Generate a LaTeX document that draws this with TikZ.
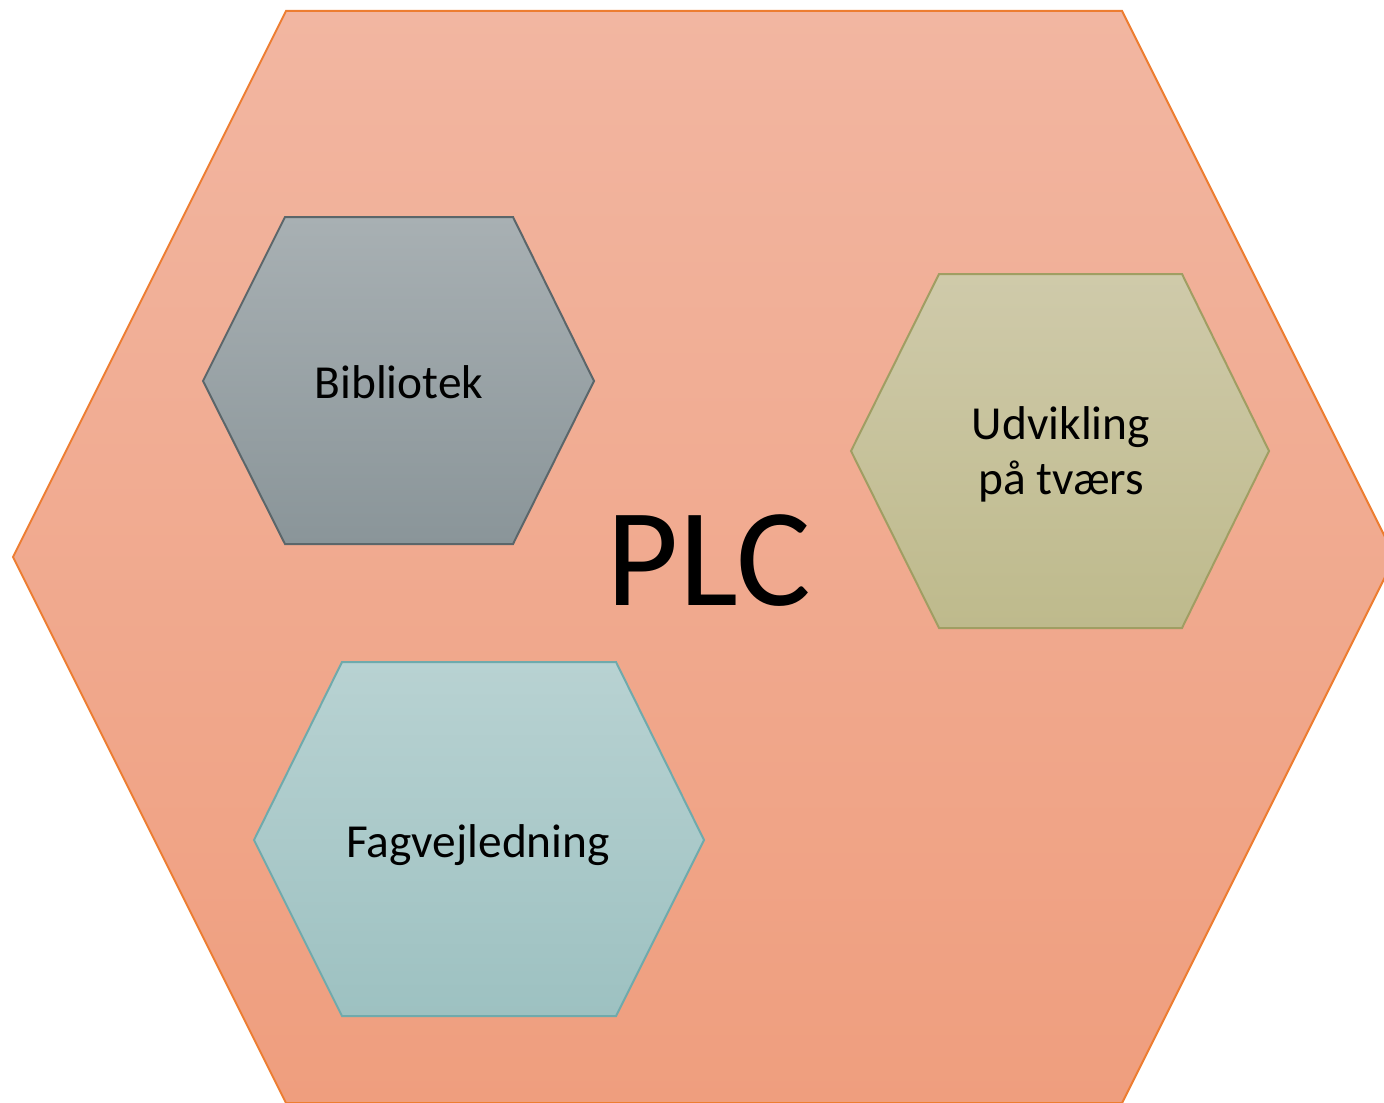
\documentclass[tikz,border=0pt]{standalone}
\usepackage{fontspec}
\setmainfont{Carlito}
\definecolor{bigtop}{HTML}{F2B6A1}
\definecolor{bigbot}{HTML}{EF9E7E}
\definecolor{bigline}{HTML}{ED7D31}
\definecolor{bibtop}{HTML}{A8B0B3}
\definecolor{bibbot}{HTML}{8A9599}
\definecolor{bibline}{HTML}{5B666A}
\definecolor{udvtop}{HTML}{CFCAAA}
\definecolor{udvbot}{HTML}{BEBA8C}
\definecolor{udvline}{HTML}{A09E63}
\definecolor{fagtop}{HTML}{B8D2D2}
\definecolor{fagbot}{HTML}{9DC1C1}
\definecolor{fagline}{HTML}{6FAAAC}
\tikzset{
  hexline/.style={line width=1pt, line join=miter},
  lbl/.style={anchor=base, inner sep=0pt, font=\fontsize{23.7}{23}\selectfont, align=center, text=black},
}
\begin{document}
\begin{tikzpicture}[x=0.5pt,y=-0.5pt]
\useasboundingbox (0,0) rectangle (1384,1102);
\clip (0,0) rectangle (1384,1102);
% big hexagon
\path[hexline, draw=bigline, top color=bigtop, bottom color=bigbot]
  (286,11) -- (1122,11) -- (1395,557) -- (1122,1103) -- (286,1103) -- (13,557) -- cycle;
% Bibliotek
\path[hexline, draw=bibline, top color=bibtop, bottom color=bibbot]
  (285,217) -- (513,217) -- (594,381) -- (513,544) -- (285,544) -- (203,381) -- cycle;
% Udvikling
\path[hexline, draw=udvline, top color=udvtop, bottom color=udvbot]
  (939,274) -- (1182,274) -- (1269,451) -- (1182,628) -- (939,628) -- (851,451) -- cycle;
% Fagvejledning
\path[hexline, draw=fagline, top color=fagtop, bottom color=fagbot]
  (342,662) -- (616,662) -- (704,840) -- (616,1016) -- (342,1016) -- (254,840) -- cycle;
\node[lbl] (bib) at (399,398) {Bibliotek};
\node[lbl] (udv1) at (1061,439) {Udvikling};
\node[lbl] (udv2) at (1061,494) {på tværs};
\node[lbl] (fag) at (478,857) {Fagvejledning};
\node[anchor=base, inner sep=0pt, font=\fontsize{70}{70}\selectfont] (plc) at (709,605) {PLC};
\end{tikzpicture}
\end{document}
